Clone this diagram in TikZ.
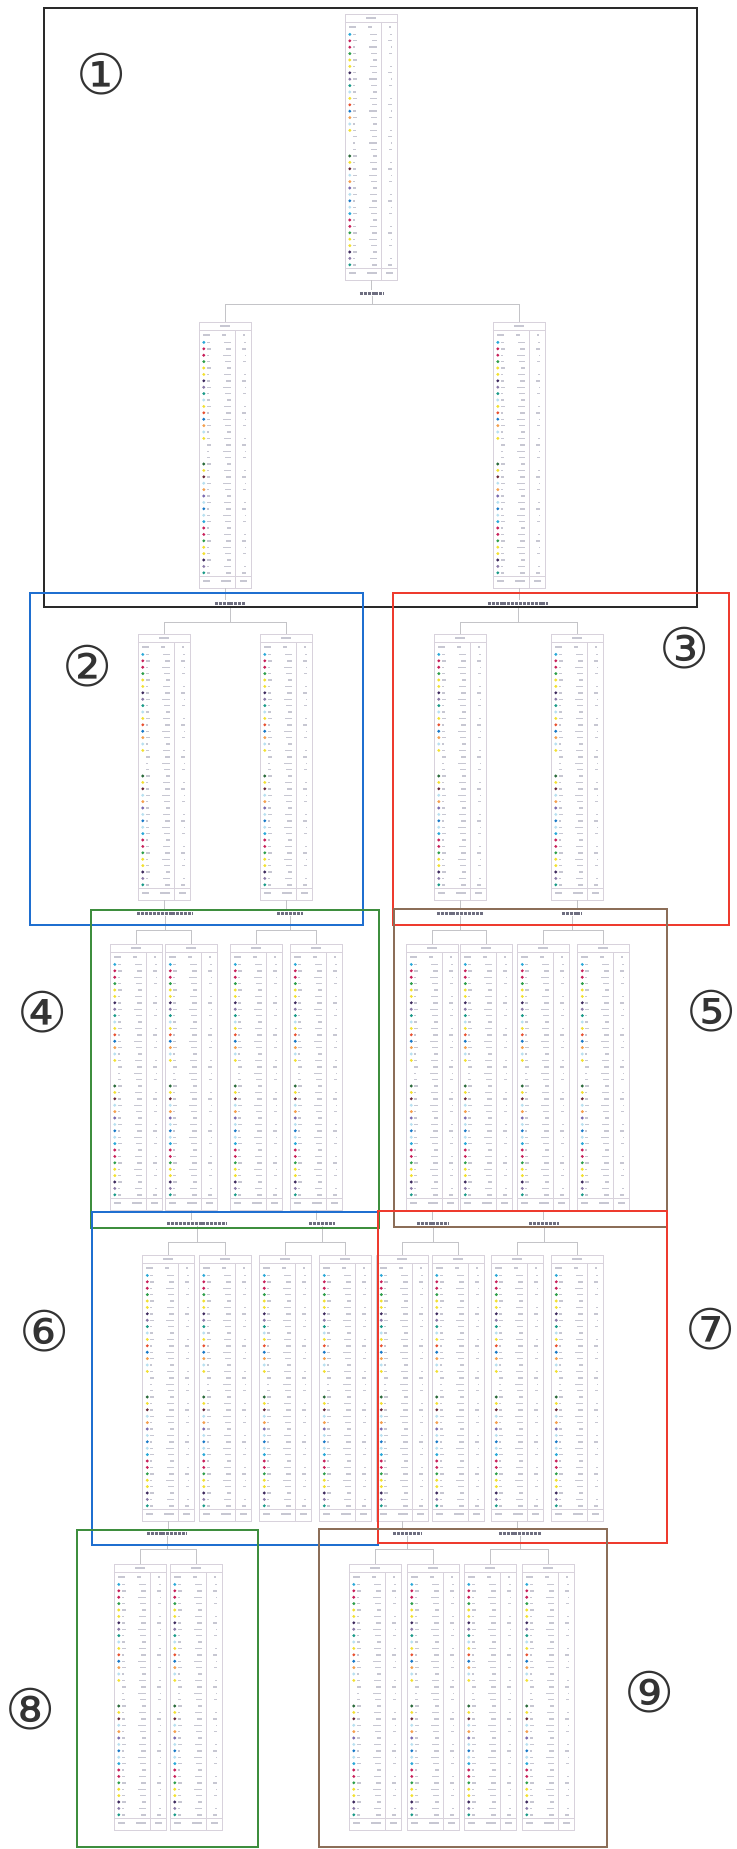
\documentclass[tikz,border=0pt]{standalone}
\usepackage{fontspec}
\newfontfamily\circfont{DejaVu Sans}
\definecolor{cy}{HTML}{2AA8D8}
\definecolor{cr}{HTML}{C8205A}
\definecolor{gr}{HTML}{2E9E4A}
\definecolor{ye}{HTML}{F2E030}
\definecolor{dp}{HTML}{3E2A5E}
\definecolor{gp}{HTML}{8A7AA8}
\definecolor{te}{HTML}{1A9A88}
\definecolor{rd}{HTML}{E85030}
\definecolor{bl}{HTML}{1A7AC8}
\definecolor{orn}{HTML}{F4A050}
\definecolor{lc}{HTML}{B8E0F0}
\definecolor{dg}{HTML}{2A6A3A}
\definecolor{brn}{HTML}{6A2A3A}
\definecolor{pu}{HTML}{7A6AB0}
\definecolor{tlinec}{HTML}{D8D2DC}
\definecolor{smc}{HTML}{9A9AAE}
\definecolor{lblc}{HTML}{6E6E80}
\definecolor{connc}{HTML}{C4C4C8}
\definecolor{fblackc}{HTML}{2A2A2A}
\definecolor{fbluec}{HTML}{1F6FD0}
\definecolor{fredc}{HTML}{EE3B2E}
\definecolor{fgreenc}{HTML}{3E8E3E}
\definecolor{fbrownc}{HTML}{8C6E58}
\tikzset{
  tbox/.style={draw=tlinec, line width=0.4pt, minimum width=52pt, minimum height=266pt, inner sep=0pt, anchor=north},
  tline/.style={draw=tlinec, line width=0.35pt},
  smudge/.style={fill=smc, fill opacity=0.55},
  lbl/.style={inner sep=0pt, minimum height=5pt},
  lbltext/.style={draw=lblc, line width=3pt, dash pattern=on 3pt off 0.9pt},
  conn/.style={draw=connc, line width=0.5pt},
  frame/.style={line width=1.6pt},
  circnum/.style={font=\circfont\fontsize{56}{56}\selectfont, inner sep=0pt, text=black!80}
}
\def\dotlist{cy,cr,cr,gr,ye,ye,dp,gp,te,lc,ye,rd,bl,orn,lc,ye,none,none,none,dg,ye,brn,lc,orn,pu,lc,bl,lc,cy,cr,cr,gr,ye,ye,dp,gp,te}
\newcommand\drawtbl[3]{%
  \node[tbox] (#1) at (#2,#3) {};
  \begin{scope}[shift={(#1.north west)}]
    \draw[tline] (0,8) -- (52,8);
    \draw[tline] (0,254) -- (52,254);
    \draw[tline] (36,8) -- (36,266);
    \fill[smudge] (21,3.3) rectangle (31,4.7);
    \fill[smudge] (4,12.3) rectangle (11,13.7);
    \fill[smudge] (23,12.3) rectangle (27,13.7);
    \fill[smudge] (44,12.3) rectangle (46,13.7);
    \foreach \c [count=\i] in \dotlist {
      \pgfmathsetmacro\yy{14+\i*6.4}
      \path[fill=\c] (5,\yy) circle[radius=1.6pt];
      \pgfmathsetmacro\la{2+mod(\i,3)}
      \fill[smudge] (8,\yy-0.7) rectangle ++(\la,1.4);
      \pgfmathsetmacro\lb{4+mod(\i*3,5)}
      \fill[smudge] (32-\lb,\yy-0.7) rectangle (32,\yy+0.7);
      \pgfmathtruncatemacro\lc{mod(\i*7,5)}
      \ifnum\lc>0 \fill[smudge] (47-\lc,\yy-0.7) rectangle (47,\yy+0.7);\fi
    }
    \fill[smudge] (4,258.3) rectangle (11,259.7);
    \fill[smudge] (22,258.3) rectangle (32,259.7);
    \fill[smudge] (41,258.3) rectangle (48,259.7);
  \end{scope}
}
\newcommand\drawlbl[5]{% name, table, x, y, width
  \node[lbl, minimum width=#5pt] (#1) at (#3,#4) {};
  \draw[conn] (#2.south) -- (#2.south |- #1.north);
  \draw[lbltext] (#1.west) -- (#1.east);
}
\begin{document}
\begin{tikzpicture}[x=1pt,y=-1pt]
\useasboundingbox (0,0) rectangle (736,1849);
\fill[white] (0,0) rectangle (736,1849);

% ---- tables ----
\drawtbl{t0}{371}{14}
\drawtbl{tA}{225}{322}
\drawtbl{tB}{519}{322}
\drawtbl{tAa}{164}{634}
\drawtbl{tAb}{286}{634}
\drawtbl{tBa}{460}{634}
\drawtbl{tBb}{577}{634}
\drawtbl{tAaa}{136}{944}
\drawtbl{tAab}{191.5}{944}
\drawtbl{tAba}{256.5}{944}
\drawtbl{tAbb}{316.5}{944}
\drawtbl{tBaa}{432.5}{944}
\drawtbl{tBab}{486.5}{944}
\drawtbl{tBba}{543.5}{944}
\drawtbl{tBbb}{603.5}{944}
\drawtbl{u1}{168.5}{1255}
\drawtbl{u2}{225}{1255}
\drawtbl{u3}{285.5}{1255}
\drawtbl{u4}{345.5}{1255}
\drawtbl{u5}{402.5}{1255}
\drawtbl{u6}{458}{1255}
\drawtbl{u7}{517.5}{1255}
\drawtbl{u8}{577.5}{1255}
\drawtbl{v1}{140}{1564}
\drawtbl{v2}{196}{1564}
\drawtbl{v3}{375}{1564}
\drawtbl{v4}{433}{1564}
\drawtbl{v5}{490}{1564}
\drawtbl{v6}{548}{1564}

% ---- labels ----
\drawlbl{l0}{t0}{372}{293}{24}
\drawlbl{lA}{tA}{230}{603}{30}
\drawlbl{lB}{tB}{518}{603}{60}
\drawlbl{lAa}{tAa}{165}{913}{55}
\drawlbl{lAb}{tAb}{290}{913}{25}
\drawlbl{lBa}{tBa}{460}{913}{46}
\drawlbl{lBb}{tBb}{572}{913}{20}
\drawlbl{lAab}{tAab}{197}{1223}{59}
\drawlbl{lAbb}{tAbb}{322}{1223}{25}
\drawlbl{lBaa}{tBaa}{433}{1223}{32}
\drawlbl{lBba}{tBba}{544}{1223}{29}
\drawlbl{lu1}{u1}{167}{1533}{40}
\drawlbl{lu5}{u5}{407}{1533}{27}
\drawlbl{lu7}{u7}{520}{1533}{42}

% ---- connectors ----
\foreach \p/\c/\d in {l0/tA/9, l0/tB/9, lA/tAa/17, lA/tAb/17, lB/tBa/17, lB/tBb/17,
  lAa/tAaa/15, lAa/tAab/15, lAb/tAba/15, lAb/tAbb/15, lBa/tBaa/15, lBa/tBab/15, lBb/tBba/15, lBb/tBbb/15,
  lAab/u1/17, lAab/u2/17, lAbb/u3/17, lAbb/u4/17, lBaa/u5/17, lBaa/u6/17, lBba/u7/17, lBba/u8/17,
  lu1/v1/14, lu1/v2/14, lu5/v3/14, lu5/v4/14, lu7/v5/14, lu7/v6/14}
  \draw[conn] (\p.south) -- ++(0,\d) -| (\c.north);

% ---- frames ----
\draw[frame, fblackc] (44,8) rectangle (697,607);
\draw[frame, fbluec] (30,593) rectangle (363,925);
\draw[frame, fredc] (393,593) rectangle (729,925);
\draw[frame, fgreenc] (91,910) rectangle (379,1228);
\draw[frame, fbrownc] (394,909) rectangle (667,1227);
\draw[frame, fbluec] (92,1212) rectangle (378,1545);
\draw[frame, fredc] (378,1211) rectangle (667,1543);
\draw[frame, fgreenc] (77,1530) rectangle (258,1847);
\draw[frame, fbrownc] (319,1529) rectangle (607,1847);

% ---- circled numbers ----
\node[circnum] (n1) at (102,74) {①};
\node[circnum] (n2) at (88,666) {②};
\node[circnum] (n3) at (685,648) {③};
\node[circnum] (n4) at (43,1012) {④};
\node[circnum] (n5) at (712,1011) {⑤};
\node[circnum] (n6) at (45,1331) {⑥};
\node[circnum] (n7) at (711,1329) {⑦};
\node[circnum] (n8) at (31,1709) {⑧};
\node[circnum] (n9) at (650,1692) {⑨};
\end{tikzpicture}
\end{document}
